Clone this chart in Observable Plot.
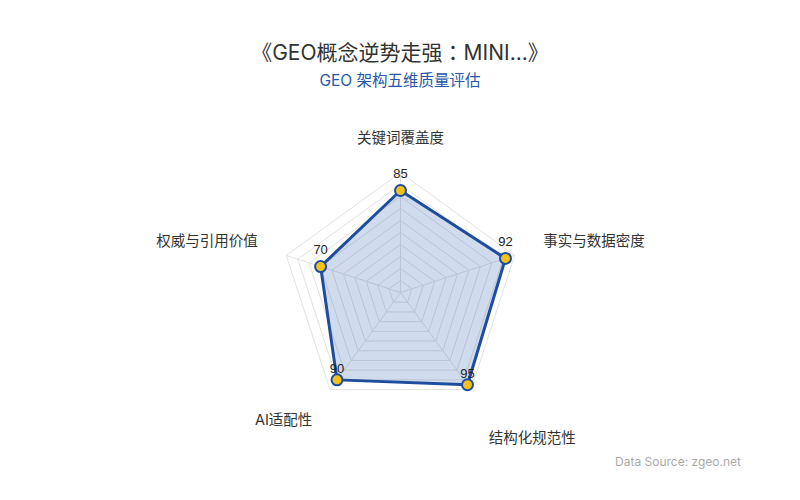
<!DOCTYPE html>
<html>
<head>
<meta charset="utf-8">
<script src="https://cdn.jsdelivr.net/npm/d3@7"></script>
<script src="https://cdn.jsdelivr.net/npm/@observablehq/plot@0.6"></script>
<style>
  html, body { margin: 0; padding: 0; background: #fff; }
  body { width: 800px; height: 500px; position: relative; font-family: Inter, "Noto Sans CJK SC", sans-serif; overflow: hidden; }
  #header { position: relative; height: 100px; }
  #title { position: absolute; top: 37px; left: 0; width: 800px; text-align: center; font-size: 21px; line-height: 28px; color: #333; font-family: Inter, "Noto Sans CJK SC", sans-serif; }
  #subtitle { position: absolute; top: 70px; left: 0; width: 800px; text-align: center; font-size: 15.5px; line-height: 22px; color: #2657a8; }
  #caption { position: absolute; top: 454px; right: 59px; font-size: 12px; color: #aaa; }
  #chart svg { display: block; }
</style>
</head>
<body>
<div id="header">
  <div id="title">《GEO概念逆势走强<span style="font-family:'Noto Sans CJK TC'">：</span>MINI...》</div>
  <div id="subtitle">GEO 架构五维质量评估</div>
</div>
<div id="chart"></div>
<div id="caption">Data Source: zgeo.net</div>
<script>
const dimensions = ["关键词覆盖度", "事实与数据密度", "结构化规范性", "AI适配性", "权威与引用价值"];
const scores = [85, 92, 95, 90, 70];
const gridLevels = [10, 20, 30, 40, 50, 60, 70, 80, 90, 100];
const maxValue = 100;

const n = dimensions.length;
const angle = i => (i * 2 * Math.PI) / n;
const px = (v, i) => v * Math.sin(angle(i));
const py = (v, i) => v * Math.cos(angle(i));

// grid rings
const rings = [];
for (const lv of gridLevels) {
  for (let i = 0; i <= n; i++) rings.push({level: lv, x: px(lv, i % n), y: py(lv, i % n)});
}
// spokes
const spokes = dimensions.map((d, i) => ({x1: 0, y1: 0, x2: px(maxValue, i), y2: py(maxValue, i)}));
// data points
const pts = dimensions.map((d, i) => ({name: d, value: scores[i], i, x: px(scores[i], i), y: py(scores[i], i)}));
// axis labels
const labelR = 125;
const labels = dimensions.map((d, i) => ({name: d, i, x: px(labelR, i), y: py(labelR, i)}));

const labelMark = (i, anchor, dy) => Plot.text(labels.filter(d => d.i === i), {
  x: "x", y: "y", text: "name", textAnchor: anchor, dy,
  fontSize: 14.5, fill: "#333", fontFamily: "Inter, 'Noto Sans CJK SC', sans-serif"
});

const chart = Plot.plot({
  width: 800,
  height: 350,
  marginLeft: 280,
  marginRight: 280,
  marginTop: 72,
  marginBottom: 38,
  x: {domain: [-maxValue, maxValue], axis: null},
  y: {domain: [-maxValue, maxValue], axis: null},
  style: {background: "transparent", overflow: "visible"},
  marks: [
    Plot.line(rings, {x: "x", y: "y", z: "level", stroke: "#e2e2e2", strokeWidth: 1}),
    Plot.link(spokes, {x1: "x1", y1: "y1", x2: "x2", y2: "y2", stroke: "#e2e2e2", strokeWidth: 1}),
    Plot.line(pts, {x: "x", y: "y", curve: "linear-closed", fill: "#2a5db0", fillOpacity: 0.22, stroke: "#1f4d9e", strokeWidth: 3, strokeLinejoin: "round"}),
    Plot.dot(pts, {x: "x", y: "y", r: 5.5, fill: "#f3c21a", stroke: "#1f4d9e", strokeWidth: 2}),
    Plot.text(pts.filter(d => Math.cos(angle(d.i)) >= 0), {x: "x", y: "y", text: d => String(d.value), dy: -17, fontSize: 13, fill: "#222", fontFamily: "'Liberation Sans', Arial, sans-serif"}),
    Plot.text(pts.filter(d => Math.cos(angle(d.i)) < 0), {x: "x", y: "y", text: d => String(d.value), dy: -11, fontSize: 13, fill: "#222", fontFamily: "'Liberation Sans', Arial, sans-serif"}),
    labelMark(0, "middle", -4),
    labelMark(1, "start", -5),
    labelMark(2, "start", 25),
    labelMark(3, "end", 7),
    labelMark(4, "end", -5)
  ]
});
document.getElementById("chart").appendChild(chart);
</script>
</body>
</html>
